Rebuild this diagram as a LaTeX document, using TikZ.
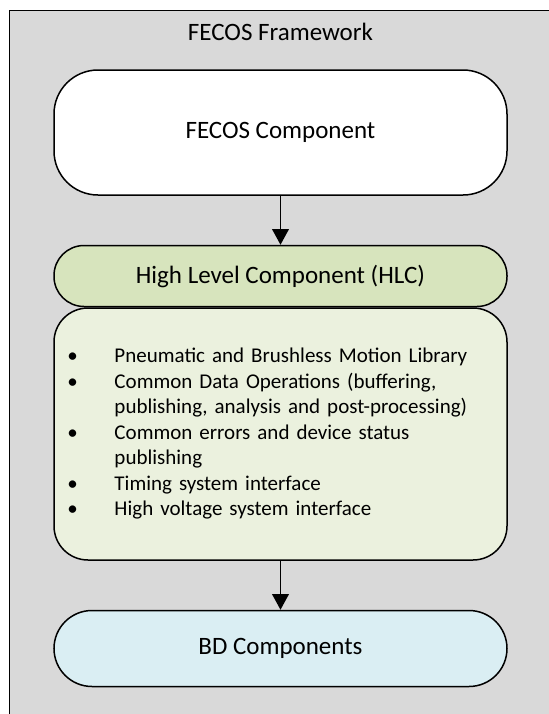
\documentclass[tikz,border=0pt]{standalone}
\usepackage{fontspec}
\setmainfont{Carlito}
\usetikzlibrary{positioning,arrows.meta}
\definecolor{framegray}{HTML}{D9D9D9}
\definecolor{hlcgreen}{HTML}{D7E4BD}
\definecolor{hlclight}{HTML}{EBF1DE}
\definecolor{bdblue}{HTML}{DAEEF3}

\begin{document}
\begin{tikzpicture}[x=1pt,y=1pt,
    block/.style={draw,line width=0.75pt,minimum width=226.5pt,inner sep=0pt,font=\fontsize{12.5}{15}\selectfont},
    flow/.style={-{Triangle[width=8.3pt,length=7.8pt]},line width=0.8pt}]
    \useasboundingbox (0,0) rectangle (274,-357);
    \fill[framegray,draw=black,line width=0.5pt] (4.7,-5.25) rectangle (275.5,-370);

    \node[font=\fontsize{12.5}{15}\selectfont] (title) at (140.25,-16) {FECOS Framework};
    \node[block,fill=white,minimum height=62.5pt,rounded corners=22pt] (fecos) at (140.25,-66.25) {FECOS Component};
    \node[block,fill=hlcgreen,minimum height=30.5pt,rounded corners=15pt,below=24.5pt of fecos] (hlc) {High Level Component (HLC)};
    \node[block,fill=hlclight,minimum height=126pt,rounded corners=17pt,below=0pt of hlc,
          inner xsep=6.5pt,text width=213pt,align=left,font=\fontsize{10.5}{12.75}\selectfont] (hlcdetail)
        {\begin{tabular}{@{}p{23.5pt}@{}l@{}}
            \textbullet & Pneumatic and Brushless Motion Library\\
            \textbullet & Common Data Operations (buffering,\\
                        & publishing, analysis and post-processing)\\
            \textbullet & Common errors and device status\\
                        & publishing\\
            \textbullet & Timing system interface\\
            \textbullet & High voltage system interface
        \end{tabular}};
    \node[block,fill=bdblue,minimum height=38pt,rounded corners=19pt,below=24.5pt of hlcdetail] (bd) {BD Components};

    \foreach \u / \v in {fecos/hlc,hlcdetail/bd}
        \draw[flow] (\u) -- (\v);
\end{tikzpicture}
\end{document}
